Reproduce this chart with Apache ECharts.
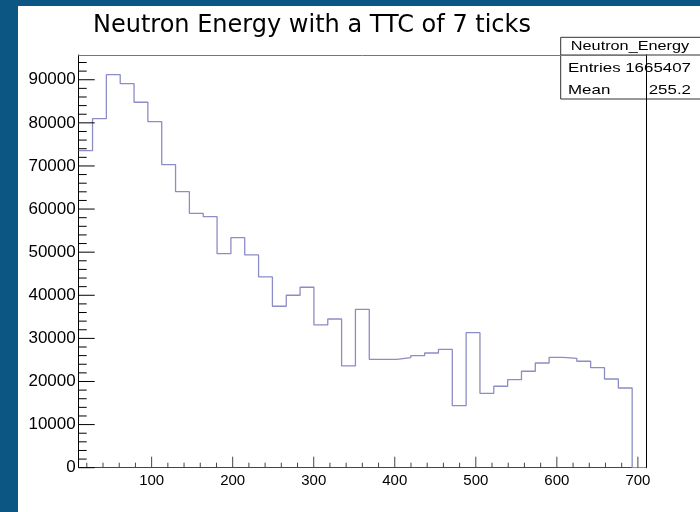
<!DOCTYPE html>
<html><head><meta charset="utf-8">
<script src="https://cdn.jsdelivr.net/npm/echarts@6/dist/echarts.min.js"></script>
<style>
html,body{margin:0;padding:0;background:#0b5682;width:700px;height:512px;overflow:hidden}
#c{position:absolute;left:18px;top:6px;width:682px;height:506px;background:#fff}
</style></head><body><div id="c"></div>
<script>
// ---- data ----
const titleText = 'Neutron Energy with a TTC of 7 ticks';
const histName = 'Neutron_Energy';
const statEntries = '1665407';
const statMean = '255.2';
const xMin = 10;
const xMax = 710;
const yMax = 95740;
const binCounts = [
  73550, 80980, 91180, 89100, 84780, 80280, 70300, 64040, 59020, 58240,
  49650, 53360, 49350, 44250, 37450, 40000, 41860, 33110, 34500, 23600,
  36750, 25150, 25150, 25520, 25990, 26610, 27470, 14390, 31320, 17260,
  18890, 20420, 22370, 24290, 25610, 25380, 24690, 23200, 20580, 18490,
  0
];
const xMajorTicks = [100, 200, 300, 400, 500, 600, 700];
const xMinorTicks = [20, 40, 60, 80, 120, 140, 160, 180, 220, 240, 260, 280,
  320, 340, 360, 380, 420, 440, 460, 480, 520, 540, 560, 580, 620, 640, 660, 680];
const yMajorTicks = [0, 10000, 20000, 30000, 40000, 50000, 60000, 70000, 80000, 90000];
const yMinorTicks = [2000, 4000, 6000, 8000, 12000, 14000, 16000, 18000, 22000, 24000, 26000, 28000,
  32000, 34000, 36000, 38000, 42000, 44000, 46000, 48000, 52000, 54000, 56000, 58000,
  62000, 64000, 66000, 68000, 72000, 74000, 76000, 78000, 82000, 84000, 86000, 88000,
  92000, 94000];

// ---- build step outline from bins ----
const nBins = binCounts.length;
const binW = (xMax - xMin) / nBins;
const steps = [];
binCounts.forEach((v, i) => {
  steps.push([xMin + i * binW, v]);
  steps.push([xMin + (i + 1) * binW, v]);
});

function xTickSeries(values, len, color) {
  return {
    type: 'custom', xAxisIndex: 0, yAxisIndex: 0, clip: false, silent: true, z: 4,
    data: values.map(v => [v]),
    encode: {x: 0},
    renderItem: (params, api) => {
      const p = api.coord([api.value(0), 0]);
      return {type: 'line', shape: {x1: p[0], y1: p[1], x2: p[0], y2: p[1] - len},
              style: {stroke: color, lineWidth: 1}};
    }
  };
}
function yTickSeries(values, len, color) {
  return {
    type: 'custom', xAxisIndex: 0, yAxisIndex: 0, clip: false, silent: true, z: 4,
    data: values.map(v => [v]),
    encode: {y: 0},
    renderItem: (params, api) => {
      const p = api.coord([xMin, api.value(0)]);
      return {type: 'line', shape: {x1: p[0], y1: p[1], x2: p[0] + len, y2: p[1]},
              style: {stroke: color, lineWidth: 1}};
    }
  };
}

const lab = 'Liberation Sans';
const chart = echarts.init(document.getElementById('c'), null, {renderer: 'canvas'});
const xBase = {type: 'value', min: xMin, max: xMax, splitLine: {show: false}, gridIndex: 0};
const yBase = {type: 'value', min: 0, max: yMax, splitLine: {show: false}, gridIndex: 0};
chart.setOption({
  animation: false,
  backgroundColor: '#ffffff',
  title: {
    text: titleText, left: 70, top: 3,
    textStyle: {fontFamily: 'DejaVu Sans', fontSize: 24, fontWeight: 'normal', color: '#000'}
  },
  grid: {left: 60.7, right: 54, top: 49, bottom: 44.3, containLabel: false},
  xAxis: [
    Object.assign({}, xBase, {
      position: 'bottom',
      axisLine: {show: true, onZero: false, lineStyle: {color: '#444', width: 1}},
      axisTick: {show: false},
      axisLabel: {show: true, customValues: xMajorTicks, fontFamily: lab, fontSize: 15, color: '#000', margin: 6,
                  formatter: v => String(v)}
    }),
    Object.assign({}, xBase, {
      position: 'top',
      axisLine: {show: true, onZero: false, lineStyle: {color: '#777', width: 1}},
      axisTick: {show: false}, axisLabel: {show: false}
    })
  ],
  yAxis: [
    Object.assign({}, yBase, {
      position: 'left',
      axisLine: {show: true, onZero: false, lineStyle: {color: '#000', width: 1}},
      axisTick: {show: false},
      axisLabel: {show: true, customValues: yMajorTicks, fontFamily: lab, fontSize: 17, color: '#000', margin: 3,
                  formatter: v => String(v)}
    }),
    Object.assign({}, yBase, {
      position: 'right',
      axisLine: {show: true, onZero: false, lineStyle: {color: '#000', width: 1}},
      axisTick: {show: false}, axisLabel: {show: false}
    })
  ],
  series: [
    {
      type: 'line', xAxisIndex: 0, yAxisIndex: 0,
      data: steps, showSymbol: false, symbol: 'none',
      lineStyle: {color: '#8c8cc6', width: 1.3},
      z: 3
    },
    xTickSeries(xMajorTicks, 11, '#444'),
    xTickSeries(xMinorTicks, 5, '#444'),
    yTickSeries(yMajorTicks, 16, '#000'),
    yTickSeries(yMinorTicks, 8, '#000')
  ],
  graphic: [{
    type: 'group', z: 100,
    children: [
      {type: 'rect', shape: {x: 542.7, y: 31.3, width: 160, height: 61.7},
       style: {fill: '#fff', stroke: '#333', lineWidth: 1}},
      {type: 'line', shape: {x1: 542.7, y1: 49, x2: 700, y2: 49}, style: {stroke: '#333', lineWidth: 1}},
      {type: 'text', x: 612, y: 40.5, scaleX: 1.25,
       style: {text: histName, align: 'center', verticalAlign: 'middle', font: '13px "Liberation Sans"', fill: '#000'}},
      {type: 'text', x: 550, y: 62, scaleX: 1.3,
       style: {text: 'Entries', align: 'left', verticalAlign: 'middle', font: '13px "Liberation Sans"', fill: '#000'}},
      {type: 'text', x: 673, y: 62, scaleX: 1.3,
       style: {text: statEntries, align: 'right', verticalAlign: 'middle', font: '13px "Liberation Sans"', fill: '#000'}},
      {type: 'text', x: 550, y: 84, scaleX: 1.3,
       style: {text: 'Mean', align: 'left', verticalAlign: 'middle', font: '13px "Liberation Sans"', fill: '#000'}},
      {type: 'text', x: 673, y: 84, scaleX: 1.3,
       style: {text: statMean, align: 'right', verticalAlign: 'middle', font: '13px "Liberation Sans"', fill: '#000'}}
    ]
  }]
});
</script></body></html>
